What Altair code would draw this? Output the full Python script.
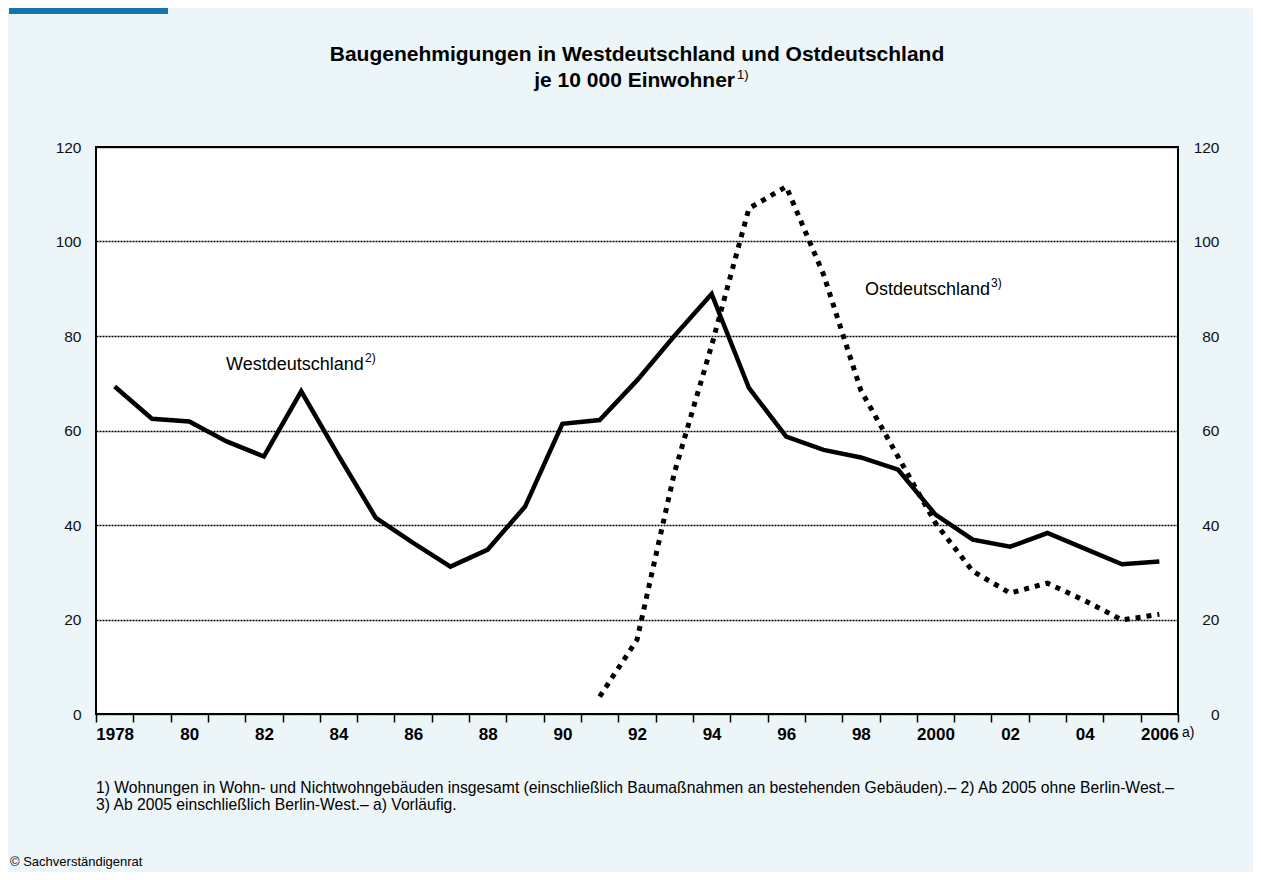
import altair as alt
import pandas as pd

# ---- data -----------------------------------------------------------
years_west = list(range(1978, 2007))
west = [69.3, 62.5, 61.9, 57.7, 54.5, 68.3, 54.7, 41.5, 36.2, 31.2,
        34.8, 43.9, 61.4, 62.2, 70.6, 80.0, 88.9, 69.0, 58.7, 55.9,
        54.3, 51.7, 42.2, 36.9, 35.4, 38.3, 35.0, 31.7, 32.3]
years_east = list(range(1991, 2007))
east = [3.7, 15.7, 51.0, 78.0, 107.0, 111.6, 93.0, 68.5, 54.4, 40.4,
        30.2, 25.6, 27.7, 24.0, 19.9, 21.1]
y_ticks = [0, 20, 40, 60, 80, 100, 120]
x_tick_bounds = [y - 0.5 for y in range(1978, 2008)]

title1 = "Baugenehmigungen in Westdeutschland und Ostdeutschland"
title2 = "je 10 000 Einwohner"
foot1 = ("1) Wohnungen in Wohn- und Nichtwohngebäuden insgesamt (einschließlich "
         "Baumaßnahmen an bestehenden Gebäuden).– 2) Ab 2005 ohne Berlin-West.–")
foot2 = "3) Ab 2005 einschließlich Berlin-West.– a) Vorläufig."

# ---- layout ---------------------------------------------------------
W, H = 1082, 567
FONT = "Liberation Sans"
half_band = W / 29 / 2

xscale = alt.Scale(domain=[1977.5, 2006.5], nice=False, zero=False)
yscale = alt.Scale(domain=[0, 120], nice=False, zero=True)

yr = "(datum.value + 0.5)"
label_expr = (f"({yr} % 2 == 0) ? (({yr} == 1978 || {yr} == 2000 || {yr} == 2006) ? "
              f"format({yr}, 'd') : slice(format({yr}, 'd'), 2)) : ''")

x_axis = alt.Axis(values=x_tick_bounds, title=None, grid=False, domain=False,
                  ticks=True, tickSize=8, tickWidth=1.5, tickColor="black",
                  labelExpr=label_expr, labelOffset=half_band, labelFlush=False,
                  labelOverlap=False, labelBound=False, labelFont=FONT,
                  labelFontSize=17, labelFontWeight="bold", labelColor="black",
                  labelPadding=4)

west_df = pd.DataFrame({"Jahr": years_west, "Wert": west})
east_df = pd.DataFrame({"Jahr": years_east, "Wert": east})

west_line = alt.Chart(west_df).mark_line(
    color="black", strokeWidth=4.5, strokeJoin="miter"
).encode(
    x=alt.X("Jahr:Q", scale=xscale, axis=x_axis),
    y=alt.Y("Wert:Q", scale=yscale,
            axis=alt.Axis(orient="left", values=y_ticks, title=None, grid=True,
                          gridColor="black", gridDash=[2, 1], gridWidth=1.4,
                          domain=False, ticks=False, labelPadding=15,
                          labelFont=FONT, labelFontSize=15.5, labelColor="#111111")),
)

east_line = alt.Chart(east_df).mark_line(
    color="black", strokeWidth=5, strokeDash=[5, 6], strokeCap="butt"
).encode(
    x=alt.X("Jahr:Q", scale=xscale, axis=x_axis),
    y=alt.Y("Wert:Q", scale=yscale,
            axis=alt.Axis(orient="right", values=y_ticks, title=None, grid=False,
                          domain=False, ticks=False, labelAlign="right",
                          labelPadding=41, labelFont=FONT, labelFontSize=15.5,
                          labelColor="#111111")),
)


def txt(s, x, y, size, weight="normal", align="left", baseline="alphabetic"):
    return alt.Chart(pd.DataFrame({"t": [s]})).mark_text(
        font=FONT, fontSize=size, fontWeight=weight, align=align,
        baseline=baseline, color="black"
    ).encode(text="t:N", x=alt.value(x), y=alt.value(y))


bar = alt.Chart(pd.DataFrame({"a": [0]})).mark_rect(color="#1673B0").encode(
    x=alt.value(-87), x2=alt.value(72), y=alt.value(-139), y2=alt.value(-133)
)

texts = [
    txt(title1, 541, -86, 21, "bold", "center"),
    txt(title2, 639, -60, 21, "bold", "right"),
    txt("1)", 641, -68, 13),
    txt("Westdeutschland", 130, 223, 18),
    txt("2)", 269, 215, 12),
    txt("Ostdeutschland", 769, 148, 18),
    txt("3)", 895, 140, 12),
    txt("a)", 1086, 590, 14),
    txt(foot1, 0, 646, 15.7),
    txt(foot2, 0, 663, 15.7),
    txt("© Sachverständigenrat", -86, 719, 13),
]

chart = alt.layer(west_line, east_line, bar, *texts).resolve_scale(
    y="independent"
).properties(
    width=W, height=H,
    padding={"left": 88, "top": 139, "right": 75, "bottom": 158},
    autosize=alt.AutoSizeParams(type="none"),
    background="#ECF5F8",
).configure_view(
    fill="white", stroke="black", strokeWidth=2
)

chart.save("out.html", embed_options={"renderer": "svg", "actions": False})
